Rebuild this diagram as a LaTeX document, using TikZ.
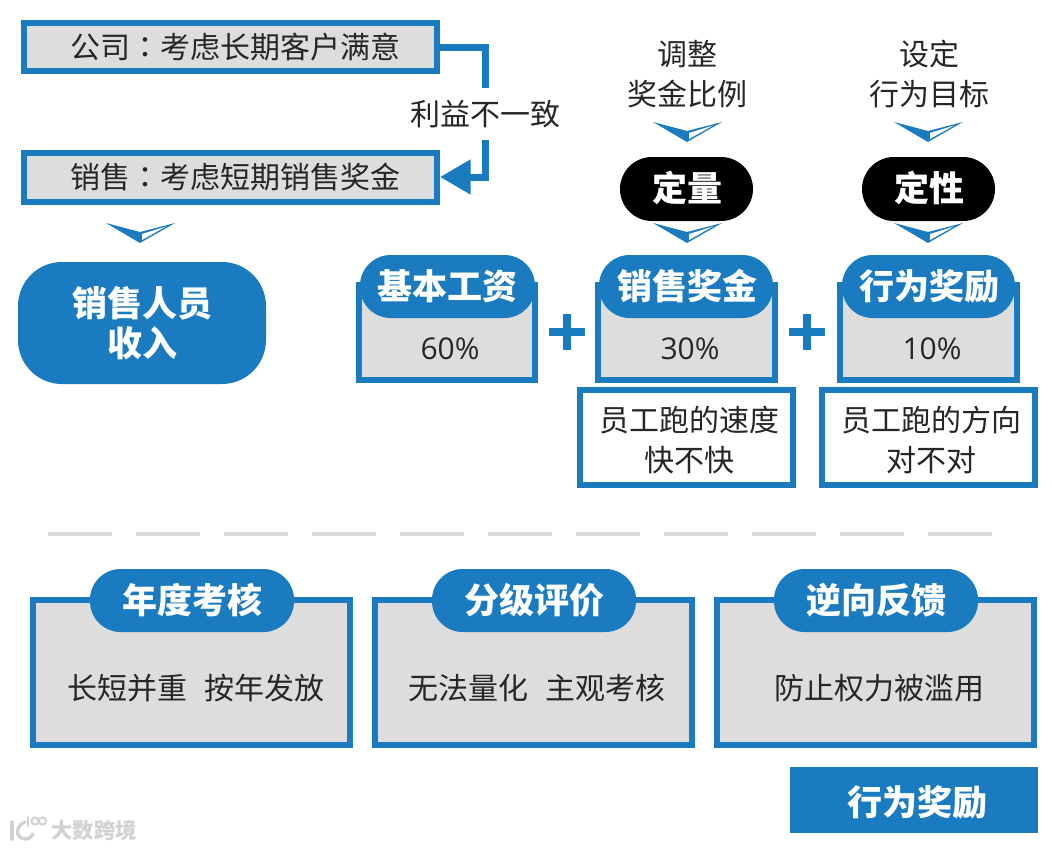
\documentclass[tikz,border=0pt]{standalone}
\usepackage{fontspec}
\setmainfont{Noto Sans CJK SC}
\newfontfamily\tcfont{Noto Sans CJK TC}
\newfontfamily\numfont{Open Sans}
\usetikzlibrary{arrows.meta}
\definecolor{mainblue}{HTML}{1B7BC0}
\definecolor{boxgray}{HTML}{DDDDDD}
\definecolor{dashgray}{HTML}{D9D9D9}
\definecolor{wmgray}{HTML}{D2D2D2}
\newcommand\bbox[6]{%
  \pgfmathsetmacro\bw{(#4-#2)*0.75}%
  \pgfmathsetmacro\bh{(#5-#3)*0.75}%
  \node[#6,minimum width=\bw pt,minimum height=\bh pt] (#1) at ({(#2+#4)/2},{(#3+#5)/2}) {};}
\tikzset{
  x=0.75pt,y=-0.75pt,
  every node/.style={inner sep=0pt,align=center},
  grayframe/.style={draw=mainblue,fill=boxgray,line width=4.5pt,rectangle},
  whiteframe/.style={draw=mainblue,fill=white,line width=4.5pt,rectangle},
  bluepill/.style={fill=mainblue,rectangle,rounded corners=23pt},
  blackpill/.style={fill=black,rectangle,rounded corners=24pt},
  body/.style={font=\fontsize{22.5}{30}\selectfont,text=black!85},
  pct/.style={font=\fontsize{22.5}{27}\selectfont\numfont,text=black!85},
  title/.style={font=\fontsize{26.25}{30}\selectfont\bfseries,text=white},
  chevron/.pic={
    \fill[mainblue] (-34,0) -- (0,20) -- (35,0) -- (0,9) -- cycle;
    \fill[white] (2,11) -- (26,3.5) -- (2,17) -- cycle;
  },
  plussign/.pic={
    \fill[mainblue] (-18,-4) rectangle (18,4);
    \fill[mainblue] (-4,-18) rectangle (4,18);
  },
}
\begin{document}
\begin{tikzpicture}
\useasboundingbox (0,0) rectangle (1052,849);
% top-left
\bbox{corp}{24}{23.5}{437}{71.5}{grayframe}
\bbox{sales}{24}{152.5}{437}{201.5}{grayframe}
\node[body] (corptext) at (235,47) {公司{\tcfont ：}考虑长期客户满意};
\node[body] (salestext) at (235,177) {销售{\tcfont ：}考虑短期销售奖金};
\node[body,minimum height=52*0.75pt] (conflict) at (485,114) {利益不一致};
\draw[mainblue,line width=5.25pt] (corp.east) -| (conflict.north);
\draw[mainblue,line width=5.25pt,-{Triangle[length=23pt,width=25pt]}] (conflict.south) |- (sales.east);
\pic at (140,223) {chevron};
\bbox{income}{18}{262}{266}{384}{bluepill,rounded corners=33pt}
\node[title] (incometext) at (142,323) {销售人员\\收入};
% upper-right heading texts
\node[body] (adj) at (687,74) {调整\\奖金比例};
\node[body] (goal) at (929,74) {设定\\行为目标};
\pic at (687,122) {chevron};
\pic at (928,122) {chevron};
\bbox{quant}{620}{157}{753}{221}{blackpill}
\bbox{qual}{862}{157}{995}{221}{blackpill}
\node[title] (quanttext) at (687,188) {定量};
\node[title] (qualtext) at (929,188) {定性};
\pic at (687,223) {chevron};
\pic at (928,223) {chevron};
% salary boxes
\bbox{f1}{359}{285}{535}{380}{grayframe}
\bbox{f2}{598}{285}{775}{380}{grayframe}
\bbox{f3}{840}{285}{1017}{380}{grayframe}
\bbox{p1}{360}{255}{535}{318}{bluepill}
\bbox{p2}{599}{255}{773}{318}{bluepill}
\bbox{p3}{842}{255}{1015}{318}{bluepill}
\node[title] (t1) at (447,286) {基本工资};
\node[title] (t2) at (687,286) {销售奖金};
\node[title] (t3) at (929,286) {行为奖励};
\node[pct] (v1) at (450,349) {60\%};
\node[pct] (v2) at (690,349) {30\%};
\node[pct] (v3) at (932,349) {10\%};
\pic at (567,332) {plussign};
\pic at (807,332) {plussign};
\bbox{n2}{580}{390}{793}{485}{whiteframe}
\bbox{n3}{822}{390}{1035}{485}{whiteframe}
\node[body,text width=214*0.75pt] (n2text) at (689,440) {员工跑的速度\\快不快};
\node[body,text width=214*0.75pt] (n3text) at (931,440) {员工跑的方向\\对不对};
% dashed divider
\coordinate (dl) at (48,534);
\coordinate (dr) at (992,534);
\draw[dashgray,line width=3pt,dash pattern=on 48pt off 18pt] (dl) -- (dr);
% bottom boxes
\bbox{b1}{33}{600}{350}{745}{grayframe}
\bbox{b2}{375}{600}{692}{745}{grayframe}
\bbox{b3}{717}{600}{1034}{745}{grayframe}
\bbox{q1}{90}{569}{294}{632}{bluepill}
\bbox{q2}{432}{569}{636}{632}{bluepill}
\bbox{q3}{774}{569}{978}{632}{bluepill}
\node[title] (qt1) at (192,600) {年度考核};
\node[title] (qt2) at (534,600) {分级评价};
\node[title] (qt3) at (876,600) {逆向反馈};
\node[body] (bt1) at (196,688) {长短并重\hspace{0.55em}按年发放};
\node[body] (bt2) at (537,688) {无法量化\hspace{0.55em}主观考核};
\node[body] (bt3) at (879,688) {防止权力被滥用};
% bottom-right tag
\bbox{tag}{790}{767}{1038}{833}{fill=mainblue,rectangle}
\node[title] (tagtext) at (917,802) {行为奖励};
% watermark
\begin{scope}[wmgray,line width=2.6pt,line cap=round]
  \draw (12,822) -- (12,839);
  \draw (25,822) .. controls (15,826) and (15,838) .. (25,839);
  \draw (25,839) .. controls (29,839) and (31,837) .. (33,834);
  \draw[line width=1.5pt] (28,817) -- (28,826);
  \draw[line width=1.5pt] (35,821) circle (3.6);
  \draw[line width=1.5pt] (42.5,821) circle (3.6);
\end{scope}
\node[font=\fontsize{16}{16}\selectfont\bfseries,text=wmgray] (wm) at (94,830) {大数跨境};
\end{tikzpicture}
\end{document}
